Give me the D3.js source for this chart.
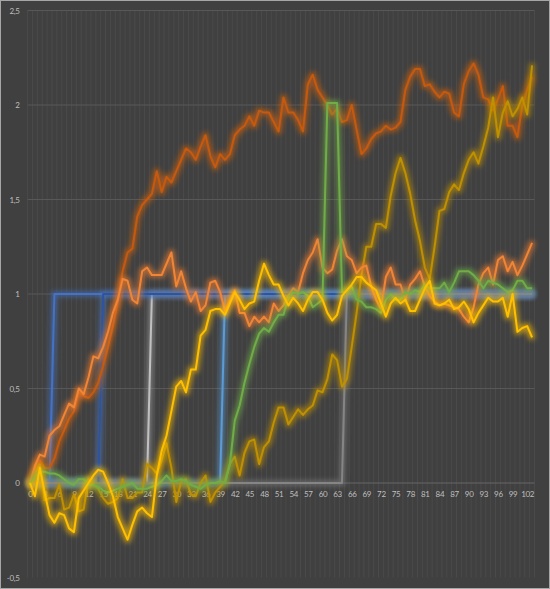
<!DOCTYPE html>
<html>
<head>
<meta charset="utf-8">
<script src="https://cdn.jsdelivr.net/npm/d3@7"></script>
<style>
  html, body { margin: 0; padding: 0; background: #404040; }
  #chart { width: 550px; height: 589px; }
  text { font-family: Lato, "Liberation Sans", sans-serif; }
</style>
</head>
<body>
<div id="chart"></div>
<script>
// categories 0..103, labels every 3rd
const categories = d3.range(0, 104);
const xTickLabels = d3.range(0, 103, 3);
const yTickLabels = [-0.5, 0, 0.5, 1, 1.5, 2, 2.5];

// step series (0 -> 1)
const blueStep = [
  0,0,0,0,0,1,1,1,1,1,1,1,1,1,1,1,1,1,1,1,
  1,1,1,1,1,1,1,1,1,1,1,1,1,1,1,1,1,1,1,1,
  1,1,1,1,1,1,1,1,1,1,1,1,1,1,1,1,1,1,1,1,
  1,1,1,1,1,1,1,1,1,1,1,1,1,1,1,1,1,1,1,1,
  1,1,1,1,1,1,1,1,1,1,1,1,1,1,1,1,1,1,1,1,
  1,1,1,1
];
const grayStep = [
  0,0,0,0,0,0,0,0,0,0,0,0,0,0,0,0,0,0,0,0,
  0,0,0,0,0,1,1,1,1,1,1,1,1,1,1,1,1,1,1,1,
  1,1,1,1,1,1,1,1,1,1,1,1,1,1,1,1,1,1,1,1,
  1,1,1,1,1,1,1,1,1,1,1,1,1,1,1,1,1,1,1,1,
  1,1,1,1,1,1,1,1,1,1,1,1,1,1,1,1,1,1,1,1,
  1,1,1,1
];
const lightBlueStep = [
  0,0,0,0,0,0,0,0,0,0,0,0,0,0,0,0,0,0,0,0,
  0,0,0,0,0,0,0,0,0,0,0,0,0,0,0,0,0,0,0,0,
  1,1,1,1,1,1,1,1,1,1,1,1,1,1,1,1,1,1,1,1,
  1,1,1,1,1,1,1,1,1,1,1,1,1,1,1,1,1,1,1,1,
  1,1,1,1,1,1,1,1,1,1,1,1,1,1,1,1,1,1,1,1,
  1,1,1,1
];
const navyStep = [
  0,0,0,0,0,0,0,0,0,0,0,0,0,0,0,1,1,1,1,1,
  1,1,1,1,1,1,1,1,1,1,1,1,1,1,1,1,1,1,1,1,
  1,1,1,1,1,1,1,1,1,1,1,1,1,1,1,1,1,1,1,1,
  1,1,1,1,1,1,1,1,1,1,1,1,1,1,1,1,1,1,1,1,
  1,1,1,1,1,1,1,1,1,1,1,1,1,1,1,1,1,1,1,1,
  1,1,1,1
];
const darkGrayStep = [
  0,0,0,0,0,0,0,0,0,0,0,0,0,0,0,0,0,0,0,0,
  0,0,0,0,0,0,0,0,0,0,0,0,0,0,0,0,0,0,0,0,
  0,0,0,0,0,0,0,0,0,0,0,0,0,0,0,0,0,0,0,0,
  0,0,0,0,0,1,1,1,1,1,1,1,1,1,1,1,1,1,1,1,
  1,1,1,1,1,1,1,1,1,1,1,1,1,1,1,1,1,1,1,1,
  1,1,1,1
];

const darkOrange = [
  0, 0.06, 0.12, 0.08, 0.08, 0.13, 0.22, 0.28, 0.34, 0.38,
  0.48, 0.46, 0.45, 0.48, 0.53, 0.62, 0.72, 0.83, 0.96, 1.12,
  1.22, 1.24, 1.41, 1.47, 1.50, 1.53, 1.65, 1.54, 1.62, 1.59,
  1.65, 1.71, 1.77, 1.75, 1.71, 1.78, 1.84, 1.73, 1.67, 1.74,
  1.71, 1.74, 1.84, 1.87, 1.89, 1.94, 1.89, 1.97, 1.96, 1.96,
  1.91, 1.86, 2.04, 1.96, 1.96, 1.92, 1.86, 2.11, 2.16, 2.08,
  2.04, 2.00, 1.95, 1.98, 1.91, 1.92, 2.00, 1.87, 1.74, 1.77,
  1.82, 1.85, 1.86, 1.89, 1.87, 1.88, 1.91, 2.08, 2.15, 2.19,
  2.19, 2.10, 2.11, 2.07, 2.04, 2.07, 2.06, 1.96, 1.94, 2.11,
  2.18, 2.22, 2.16, 2.04, 2.03, 1.97, 2.03, 2.10, 1.89, 1.89,
  1.83, 2.00, 2.08, 2.15
];
const lightOrange = [
  0, 0.09, 0.15, 0.14, 0.25, 0.28, 0.30, 0.36, 0.42, 0.40,
  0.50, 0.47, 0.56, 0.67, 0.66, 0.72, 0.80, 0.90, 0.97, 1.08,
  1.07, 0.97, 0.95, 1.12, 1.14, 1.10, 1.10, 1.10, 1.16, 1.22,
  1.04, 1.12, 1.03, 0.96, 1.01, 0.91, 0.94, 1.06, 1.07, 1.01,
  0.91, 0.97, 1.02, 0.90, 0.90, 0.83, 0.88, 0.85, 0.88, 0.85,
  0.95, 0.91, 0.94, 0.99, 1.03, 1.01, 1.11, 1.18, 1.22, 1.29,
  1.14, 1.11, 1.13, 1.23, 1.29, 1.20, 1.18, 1.11, 1.14, 1.15,
  1.04, 0.97, 0.92, 1.09, 1.14, 1.05, 1.05, 0.97, 1.05, 1.08,
  1.12, 1.04, 0.99, 0.96, 0.94, 0.95, 0.94, 0.93, 0.92, 0.88,
  0.85, 0.93, 1.05, 1.11, 1.14, 1.05, 1.18, 1.20, 1.12, 1.17,
  1.10, 1.15, 1.21, 1.27
];
const olive = [
  0, 0.05, 0.10, -0.09, -0.08, -0.08, -0.01, -0.14, -0.13, -0.06,
  -0.15, -0.14, 0.02, -0.01, -0.03, -0.08, -0.11, -0.10, -0.08, 0.02,
  -0.08, -0.08, -0.05, -0.05, 0.10, 0.08, 0.05, 0.12, 0.21, 0.08,
  -0.10, 0.01, 0.02, -0.06, -0.07, 0.00, 0.04, -0.10, -0.05, -0.02,
  0.01, 0.10, 0.14, 0.04, 0.16, 0.22, 0.23, 0.10, 0.19, 0.22,
  0.32, 0.40, 0.40, 0.31, 0.35, 0.39, 0.36, 0.39, 0.41, 0.49,
  0.48, 0.55, 0.68, 0.65, 0.51, 0.55, 0.72, 0.90, 1.10, 1.25,
  1.25, 1.37, 1.37, 1.35, 1.52, 1.64, 1.72, 1.64, 1.53, 1.39,
  1.28, 1.14, 1.08, 1.25, 1.44, 1.45, 1.54, 1.58, 1.55, 1.64,
  1.71, 1.75, 1.69, 1.78, 1.88, 2.04, 1.83, 1.96, 2.02, 1.94,
  1.98, 2.04, 1.95, 2.21
];
const yellow = [
  0, -0.07, 0.08, -0.05, -0.17, -0.21, -0.16, -0.17, -0.24, -0.26,
  -0.08, -0.04, 0.00, 0.04, 0.07, 0.06, 0.00, -0.07, -0.18, -0.24,
  -0.30, -0.22, -0.15, -0.13, -0.16, -0.18, 0.04, 0.17, 0.25, 0.38,
  0.51, 0.54, 0.48, 0.60, 0.60, 0.78, 0.81, 0.91, 0.92, 0.92,
  0.89, 0.95, 1.01, 0.97, 0.92, 0.95, 0.96, 1.07, 1.16, 1.10,
  1.05, 1.05, 0.99, 0.94, 0.98, 0.95, 0.91, 0.97, 1.01, 1.01,
  0.97, 0.90, 0.86, 0.89, 0.99, 1.02, 1.05, 1.09, 1.09, 1.06,
  1.04, 1.02, 0.95, 0.88, 0.95, 0.98, 0.95, 0.97, 0.91, 0.91,
  0.97, 1.03, 1.07, 0.95, 0.94, 0.95, 0.97, 0.92, 0.93, 0.96,
  0.92, 0.85, 0.90, 0.94, 0.98, 0.96, 0.96, 0.98, 0.88, 1.00,
  0.80, 0.82, 0.83, 0.77
];
const green = [
  0, 0.03, 0.06, 0.06, 0.05, 0.05, 0.04, 0.02, 0.00, -0.01,
  0.02, 0.02, -0.01, -0.01, -0.02, -0.04, -0.05, -0.04, -0.03, -0.02,
  -0.01, 0.00, -0.03, -0.03, -0.03, -0.02, -0.01, 0.01, 0.04, 0.01,
  0.01, 0.02, 0.01, -0.01, -0.02, -0.03, -0.01, 0.00, 0.00, 0.01,
  0.00, 0.10, 0.33, 0.41, 0.53, 0.63, 0.72, 0.79, 0.82, 0.80,
  0.85, 0.89, 0.89, 0.98, 1.01, 1.00, 1.01, 0.99, 0.93, 0.95,
  0.97, 2.01, 2.01, 2.01, 1.01, 1.01, 1.04, 0.97, 0.96, 0.93,
  0.93, 0.92, 0.90, 0.97, 1.00, 0.97, 0.97, 1.01, 1.00, 1.02,
  1.01, 1.05, 1.03, 1.03, 1.03, 1.06, 1.01, 1.06, 1.12, 1.12,
  1.12, 1.10, 1.07, 1.03, 1.07, 1.06, 1.05, 1.03, 1.01, 1.02,
  1.07, 1.07, 1.03, 1.03
];

// drawing order: first is at the bottom
const seriesList = [
  { name: "grayStep", values: grayStep, color: "#c0c0c0", glow: "#a5a5a5" },
  { name: "blueStep", values: blueStep, color: "#4472c4", glow: "#4472c4" },
  { name: "lightBlueStep", values: lightBlueStep, color: "#5b9bd5", glow: "#5b9bd5" },
  { name: "navyStep", values: navyStep, color: "#2f52a0", glow: "#4a78c0" },
  { name: "darkGrayStep", values: darkGrayStep, color: "#858585", glow: "#7f7f7f" },
  { name: "darkOrange", values: darkOrange, color: "#c55a11", glow: "#d0600f" },
  { name: "olive", values: olive, color: "#bf9000", glow: "#c09000" },
  { name: "lightOrange", values: lightOrange, color: "#f08536", glow: "#ed7d31" },
  { name: "green", values: green, color: "#70ad47", glow: "#70ad47" },
  { name: "yellow", values: yellow, color: "#ffc000", glow: "#ffc000" }
];

const width = 550;
const height = 589;
const margin = { top: 10.5, right: 15.5, bottom: 11.5, left: 27.6 };

const svg = d3.select("#chart")
  .append("svg")
  .attr("width", width)
  .attr("height", height)
  .attr("viewBox", [0, 0, width, height]);

svg.append("rect")
  .attr("x", 0.5).attr("y", 0.5)
  .attr("width", width - 1).attr("height", height - 1)
  .attr("fill", "#404040")
  .attr("stroke", "#a6a6a6")
  .attr("stroke-width", 1);

const x = d3.scalePoint()
  .domain(categories)
  .range([margin.left, width - margin.right])
  .padding(0.5);

const y = d3.scaleLinear()
  .domain([-0.5, 2.5])
  .range([height - margin.bottom, margin.top]);

const step = x.step();

// vertical gridlines between categories
svg.append("g")
  .selectAll("line")
  .data(d3.range(0, categories.length + 1))
  .join("line")
  .attr("x1", i => margin.left + i * step)
  .attr("x2", i => margin.left + i * step)
  .attr("y1", y(2.5))
  .attr("y2", y(-0.5))
  .attr("stroke", "#4d4d4d")
  .attr("stroke-width", 0.8);

// horizontal gridlines
svg.append("g")
  .selectAll("line")
  .data(yTickLabels.filter(d => d > -0.5))
  .join("line")
  .attr("x1", margin.left)
  .attr("x2", width - margin.right)
  .attr("y1", d => y(d))
  .attr("y2", d => y(d))
  .attr("stroke", d => d === 0 ? "#666" : "#585858")
  .attr("stroke-width", 1);

// y axis labels
const yAxis = svg.append("g")
  .attr("transform", `translate(${margin.left},0)`)
  .call(d3.axisLeft(y)
    .tickValues(yTickLabels)
    .tickSize(0)
    .tickPadding(8)
    .tickFormat(d => String(d).replace(".", ",")));
yAxis.select(".domain").remove();
yAxis.selectAll("text")
  .attr("fill", "#bfbfbf")
  .style("font-size", "8px")
  .style("letter-spacing", "-0.3px");

// x axis labels along value 0
const xAxis = svg.append("g")
  .attr("transform", `translate(0,${y(0)})`)
  .call(d3.axisBottom(x)
    .tickValues(xTickLabels)
    .tickSize(0)
    .tickPadding(8));
xAxis.select(".domain").remove();
xAxis.selectAll("text")
  .attr("fill", "#bfbfbf")
  .style("font-size", "8px")
  .style("letter-spacing", "-0.3px");

// glow filters
const defs = svg.append("defs");
seriesList.forEach(s => {
  const f = defs.append("filter")
    .attr("id", "glow-" + s.name)
    .attr("filterUnits", "userSpaceOnUse")
    .attr("x", 0).attr("y", 0)
    .attr("width", width).attr("height", height);
  f.append("feMorphology")
    .attr("in", "SourceAlpha")
    .attr("operator", "dilate")
    .attr("radius", 1.5)
    .attr("result", "thick");
  f.append("feGaussianBlur")
    .attr("in", "thick")
    .attr("stdDeviation", 2.6)
    .attr("result", "blur");
  f.append("feFlood")
    .attr("flood-color", s.glow)
    .attr("flood-opacity", 0.6)
    .attr("result", "tint");
  f.append("feComposite")
    .attr("in", "tint")
    .attr("in2", "blur")
    .attr("operator", "in")
    .attr("result", "soft");
  const merge = f.append("feMerge");
  merge.append("feMergeNode").attr("in", "soft");
  merge.append("feMergeNode").attr("in", "SourceGraphic");
});

const line = d3.line()
  .x((d, i) => x(categories[i]))
  .y(d => y(d));

svg.append("g")
  .selectAll("path")
  .data(seriesList)
  .join("path")
  .attr("d", d => line(d.values))
  .attr("fill", "none")
  .attr("stroke", d => d.color)
  .attr("stroke-width", 2)
  .attr("stroke-linejoin", "round")
  .attr("filter", d => `url(#glow-${d.name})`);
</script>
</body>
</html>
